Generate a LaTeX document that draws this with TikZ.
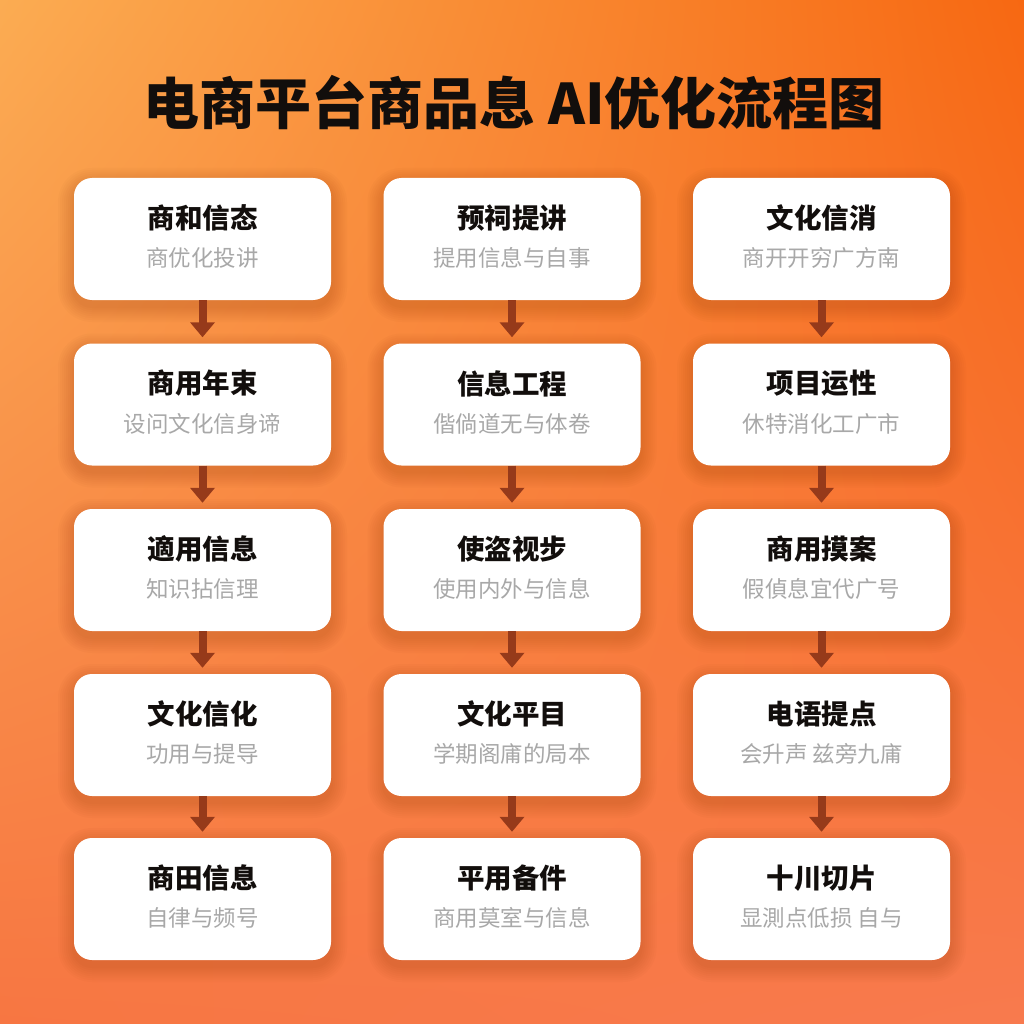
\documentclass[tikz,border=0pt]{standalone}
\usepackage{fontspec}
\usetikzlibrary{arrows.meta,shadings}
\newfontfamily\cjk{Noto Sans CJK SC}
\definecolor{bgUL}{RGB}{251,172,82}
\definecolor{bgUR}{RGB}{247,104,18}
\definecolor{bgLL}{RGB}{247,118,66}
\definecolor{bgLR}{RGB}{248,122,78}
\definecolor{arrowbrown}{RGB}{150,58,26}
\definecolor{subgray}{RGB}{168,168,168}
\definecolor{titleblack}{RGB}{18,14,12}
\definecolor{shadowc}{RGB}{120,40,0}
\tikzset{
  card/.style={fill=white, rounded corners=18pt, minimum width=257pt, minimum height=122pt, inner sep=0pt},
  cardtitle/.style={font=\cjk\bfseries\fontsize{27.5}{32}\selectfont, text=titleblack, inner sep=0pt},
  cardsub/.style={font=\cjk\fontsize{22.5}{26}\selectfont, text=subgray, inner sep=0pt},
  flow/.style={draw=arrowbrown, line width=8pt, -{Triangle[width=24pt,length=15pt]}, shorten >=6pt},
  heading/.style={font=\cjk\bfseries\fontsize{56}{62}\selectfont, text=titleblack, inner sep=0pt}
}
\begin{document}
\begin{tikzpicture}[x=1pt,y=-1pt]
\useasboundingbox (0,0) rectangle (1024,1024);
\shade[upper left=bgUL, upper right=bgUR, lower left=bgLL, lower right=bgLR] (0,0) rectangle (1024,1024);
\node[heading] (head) at (514,103) {电商平台商品息 AI优化流程图};
% soft shadows
\foreach \x in {202.5,512,821.5}{
  \foreach \y in {239,404.5,570,735,899}{
    \foreach \g in {2,4,...,16}{
      \fill[shadowc, opacity=0.025, rounded corners=18pt+\g pt]
        (\x-128.5-\g,\y-61-\g+6) rectangle (\x+128.5+\g,\y+61+\g+6);
    }
  }
}
\foreach \c/\x in {1/202.5,2/512,3/821.5}{
  \foreach \r/\y in {1/239,2/404.5,3/570,4/735,5/899}{
    \node[card] (b\c\r) at (\x,\y) {};
  }
}
\newcommand\cardtext[3]{%
  \node[cardtitle] (t#1) at ([yshift=21pt]#1.center) {#2};
  \node[cardsub] (s#1) at ([yshift=-19pt]#1.center) {#3};}
\cardtext{b11}{商和信态}{商优化投讲}
\cardtext{b12}{商用年束}{设问文化信身谛}
\cardtext{b13}{適用信息}{知识拈信理}
\cardtext{b14}{文化信化}{功用与提导}
\cardtext{b15}{商田信息}{自律与频号}
\cardtext{b21}{预祠提讲}{提用信息与自事}
\cardtext{b22}{信息工程}{偕倘道无与体卷}
\cardtext{b23}{使盗视步}{使用内外与信息}
\cardtext{b24}{文化平目}{学期阁庯的局本}
\cardtext{b25}{平用备件}{商用莫室与信息}
\cardtext{b31}{文化信消}{商开开穷广方南}
\cardtext{b32}{项目运性}{休特消化工广市}
\cardtext{b33}{商用摸案}{假偵息宜代广号}
\cardtext{b34}{电语提点}{会升声 兹旁九庯}
\cardtext{b35}{十川切片}{显測点低损 自与}
\foreach \c in {1,2,3}{
  \foreach \r/\n in {1/2,2/3,3/4,4/5}{
    \draw[flow] (b\c\r.south) -- (b\c\n.north);
  }
}
\end{tikzpicture}
\end{document}
